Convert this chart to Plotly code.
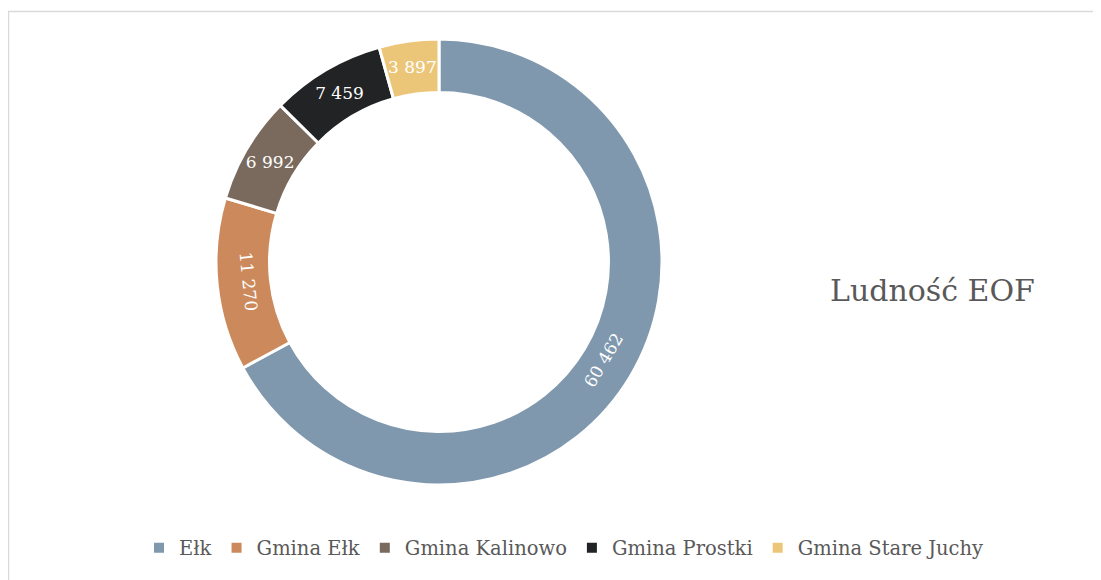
import plotly.graph_objects as go

labels = ["Ełk", "Gmina Ełk", "Gmina Kalinowo", "Gmina Prostki", "Gmina Stare Juchy"]
values = [60462, 11270, 6992, 7459, 3897]
colors = ["#7f98ae", "#cc8a5c", "#7a695d", "#222325", "#ecc678"]
title_text = "Ludność EOF"

# page body has an 8px margin; work in figure coordinates = reference - 8
OFF = 8
W, H = 1101 - OFF, 580 - OFF
cx, cy, R = 439 - OFF, 262 - OFF, 223
FONT = "DejaVu Serif"

texts = [f"{v:,}".replace(",", " ") for v in values]

fig = go.Figure(go.Pie(
    labels=labels,
    values=values,
    text=texts,
    textinfo="text",
    textposition="inside",
    insidetextorientation="auto",
    textfont=dict(family=FONT, size=17, color="white"),
    hole=0.76,
    sort=False,
    direction="clockwise",
    rotation=0,
    marker=dict(colors=colors, line=dict(color="white", width=3)),
    domain=dict(x=[(cx - R) / W, (cx + R) / W], y=[1 - (cy + R) / H, 1 - (cy - R) / H]),
    hoverinfo="label+value",
))

fig.update_layout(
    width=W, height=H,
    margin=dict(l=0, r=0, t=0, b=0),
    paper_bgcolor="white",
    plot_bgcolor="white",
    font=dict(family=FONT, color="#595959"),
    showlegend=True,
    legend=dict(
        orientation="h",
        x=(564 - OFF) / W, xanchor="center",
        y=1 - (548 - OFF) / H, yanchor="middle",
        font=dict(family=FONT, size=19.5, color="#595959"),
        itemsizing="constant",
    ),
    annotations=[dict(
        text=title_text, x=(932 - OFF) / W, y=1 - (290 - OFF) / H, xref="paper", yref="paper",
        xanchor="center", yanchor="middle", showarrow=False,
        font=dict(family=FONT, size=30, color="#595959"),
    )],
    shapes=[dict(
        type="rect", xref="paper", yref="paper",
        x0=(8.5 - OFF) / W, x1=1.05, y0=-0.05, y1=1 - (11.5 - OFF) / H,
        line=dict(color="#d9d9d9", width=1.5), fillcolor="rgba(0,0,0,0)", layer="below",
    )],
)

fig.write_html("out.html")
